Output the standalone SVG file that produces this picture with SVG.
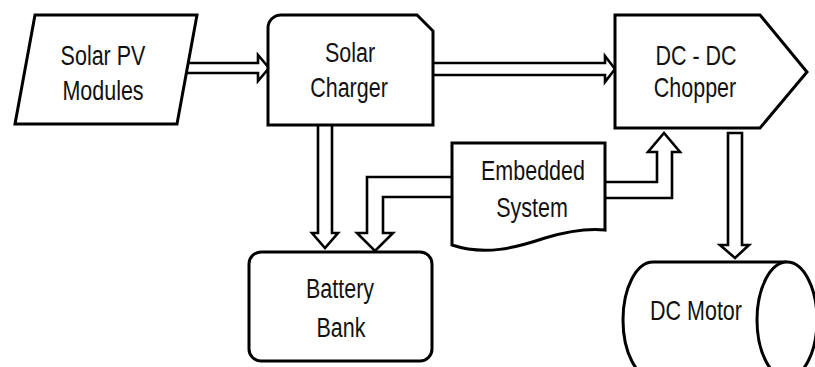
<svg xmlns="http://www.w3.org/2000/svg" width="815" height="367" viewBox="0 0 815 367">
<style>
.shape{fill:#fff;stroke:#000;stroke-width:3;stroke-linejoin:miter}
.arrow{fill:#fff;stroke:#000;stroke-width:2.6;stroke-linejoin:miter}
.lbl{font-family:"Liberation Sans",Arial,sans-serif;font-size:21.5px;fill:#111;text-anchor:middle}
</style>
<rect width="815" height="367" fill="#fff"/>
<g id="connectors">
<path class="arrow" d="M170,63 L258,63 L258,55 L269,68 L258,81 L258,73 L170,73 Z"/>
<path class="arrow" d="M425,63 L605,63 L605,56 L615,69 L605,82 L605,75 L425,75 Z"/>
<path class="arrow" d="M318,118 L318,233 L312,233 L325,248 L338,233 L332,233 L332,118 Z"/>
<path class="arrow" d="M460,177 L367,177 L367,233 L357,233 L375,251 L393,233 L383,233 L383,197 L460,197 Z"/>
<path class="arrow" d="M598,182 L657,182 L657,152 L648,152 L664,133 L680,152 L672,152 L672,198 L598,198 Z"/>
<path class="arrow" d="M728,133 L728,245 L720,245 L735,258 L749,245 L742,245 L742,133 Z"/>
</g>
<g id="solar-pv">
<polygon class="shape" points="35,15 197,15 177,124 15,124"/>
<text class="lbl" transform="translate(103,65) scale(1,1.32)">Solar PV</text>
<text class="lbl" transform="translate(103,100) scale(1,1.32)">Modules</text>
</g>
<g id="solar-charger">
<path class="shape" d="M268,28 A13,13 0 0 1 281,15 L417,15 L433,31 L433,125 L268,125 Z"/>
<text class="lbl" transform="translate(350,62) scale(1,1.32)">Solar</text>
<text class="lbl" transform="translate(349,97) scale(1,1.32)">Charger</text>
</g>
<g id="dc-dc-chopper">
<polygon class="shape" points="615,15 760,15 807,72 760,128 615,128"/>
<text class="lbl" transform="translate(696,65) scale(1,1.32)">DC - DC</text>
<text class="lbl" transform="translate(695,97) scale(1,1.32)">Chopper</text>
</g>
<g id="embedded-system">
<path class="shape" d="M452,143 L605,143 L605,230 C585,228 565,232 545,238 C515,248 485,256 452,245 Z"/>
<text class="lbl" transform="translate(533,180) scale(1,1.32)">Embedded</text>
<text class="lbl" transform="translate(532,217) scale(1,1.32)">System</text>
</g>
<g id="battery-bank">
<rect class="shape" x="249" y="252" width="183" height="109" rx="12" ry="12"/>
<text class="lbl" transform="translate(340,298) scale(1,1.32)">Battery</text>
<text class="lbl" transform="translate(341,337) scale(1,1.32)">Bank</text>
</g>
<g id="dc-motor">
<path class="shape" d="M653,262 L787,262 A30,58 0 0 1 787,378 L653,378 A30,58 0 0 1 653,262 Z"/>
<path class="shape" fill="none" d="M787,262 A30,58 0 0 0 787,378"/>
<text class="lbl" transform="translate(696,320) scale(1,1.32)">DC Motor</text>
</g>
</svg>
